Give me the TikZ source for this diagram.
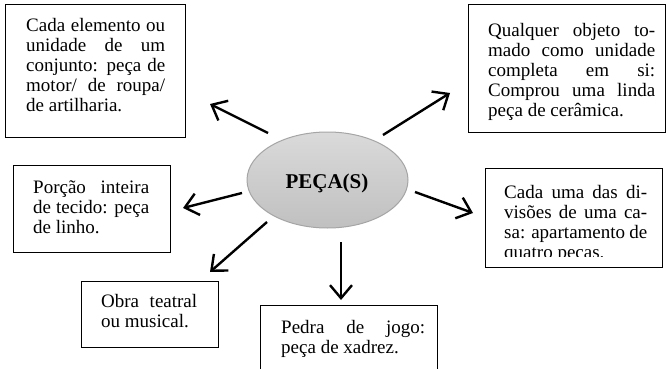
\documentclass[tikz,border=0pt]{standalone}
\usepackage{fontspec}
\setmainfont{Liberation Serif}
\usetikzlibrary{arrows.meta,shapes.geometric}
\newcommand\jl[2]{\makebox[#1pt][s]{\strut #2}}
\begin{document}
\begin{tikzpicture}[x=1pt,y=-1pt,
  box/.style={draw=black,line width=1pt,rectangle,inner sep=0pt,anchor=north west},
  txt/.style={inner sep=0pt,anchor=north west,align=left,font=\fontsize{19}{20}\selectfont},
  arr/.style={line width=2.4pt,-{Straight Barb[length=13pt,width=22pt]}}]
\clip (0,0) rectangle (667,369);
\fill[white] (0,0) rectangle (667,369);
% central ellipse
\node[ellipse,draw={rgb,255:red,165;green,165;blue,165},line width=1pt,
  top color={rgb,255:red,218;green,218;blue,218},
  bottom color={rgb,255:red,192;green,192;blue,192},
  minimum width=161pt,minimum height=96pt] (c) at (327.5,180) {};
\node[anchor=base,inner sep=0pt,font=\fontsize{21}{24}\selectfont\bfseries] (ct) at (327,188) {PEÇA(S)};
% boxes
\node[box,minimum width=180pt,minimum height=133pt] (b1) at (5,4) {};
\node[txt] (t1) at (26,17) {\jl{139}{Cada elemento ou}\\\jl{139}{unidade de um}\\\jl{139}{conjunto: peça de}\\\jl{139}{motor/ de roupa/}\\\strut de artilharia.};
\node[box,minimum width=197pt,minimum height=128pt] (b2) at (468,4) {};
\node[txt] (t2) at (488,22) {\jl{167}{Qualquer objeto to-}\\\jl{167}{mado como unidade}\\\jl{167}{completa em si:}\\\jl{167}{Comprou uma linda}\\\strut peça de cerâmica.};
\node[box,minimum width=157pt,minimum height=87pt] (b3) at (13,165) {};
\node[txt] (t3) at (33,179) {\jl{116}{Porção inteira}\\\jl{116}{de tecido: peça}\\\strut de linho.};
\node[box,minimum width=137pt,minimum height=66pt] (b4) at (81,281) {};
\node[txt] (t4) at (101,293) {\jl{96}{Obra teatral}\\\strut ou musical.};
\node[box,minimum width=177pt,minimum height=80pt] (b5) at (260,305) {};
\node[txt] (t5) at (281,319) {\jl{144}{Pedra de jogo:}\\\strut peça de xadrez.};
\node[box,minimum width=177pt,minimum height=99pt] (b6) at (485,168) {};
\begin{scope}
\clip (486,169) rectangle (661,256.5);
\node[txt] (t6) at (504,184) {\jl{143}{Cada uma das di-}\\\jl{143}{visões de uma ca-}\\\jl{143}{sa: apartamento de}\\\strut quatro peças.};
\end{scope}
% arrows
\coordinate (s1) at (268,133); \coordinate (e1) at (210,104);
\coordinate (s2) at (383,135); \coordinate (e2) at (450,93);
\coordinate (s3) at (242,193); \coordinate (e3) at (183,208);
\coordinate (s4) at (267,222); \coordinate (e4) at (210,272);
\coordinate (s5) at (341,242); \coordinate (e5) at (341,300);
\coordinate (s6) at (415,192); \coordinate (e6) at (473,213);
\foreach \i in {1,...,6} {\draw[arr] (s\i) -- (e\i);}
\end{tikzpicture}
\end{document}
